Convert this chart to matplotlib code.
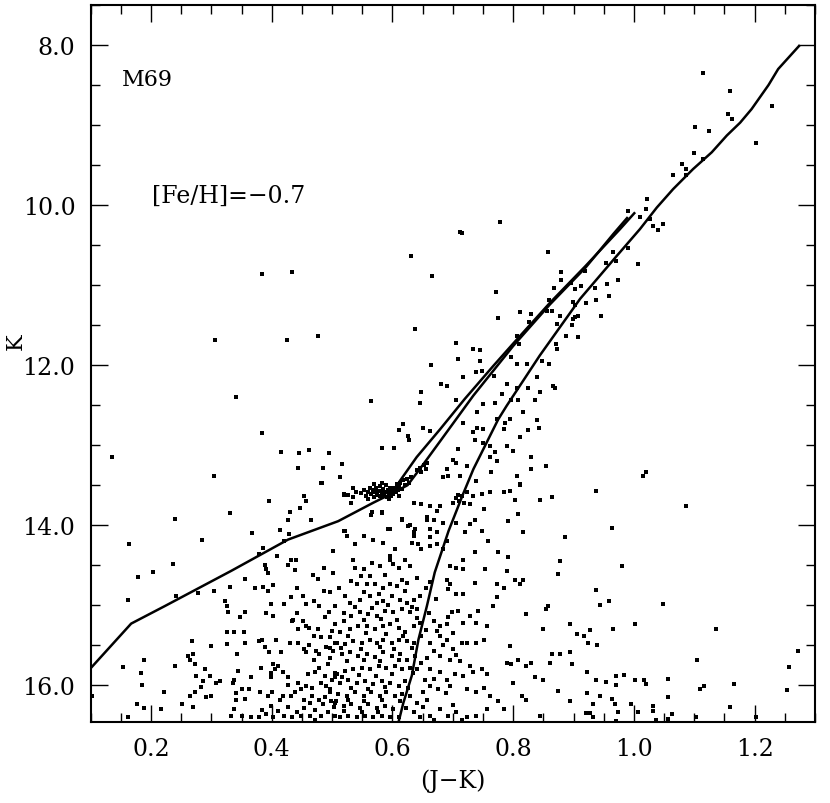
import matplotlib
matplotlib.use("Agg")
import matplotlib.pyplot as plt
import numpy as np
from matplotlib.ticker import MultipleLocator, FormatStrFormatter

plt.rcParams["font.family"] = ["DejaVu Serif"]

# ---------------------------------------------------------------
# fiducial lines, (J-K) vs K
# ---------------------------------------------------------------
rgb_jk = [0.610, 0.618, 0.632, 0.643, 0.657, 0.670, 0.693, 0.717, 0.734,
          0.775, 0.789, 0.844, 0.911, 0.971, 1.010, 1.038, 1.065, 1.098,
          1.129, 1.154, 1.176, 1.195, 1.223, 1.239, 1.275]
rgb_k = [16.46, 16.22, 15.88, 15.43, 15.01, 14.59, 14.07, 13.61, 13.30,
         12.68, 12.51, 11.88, 11.17, 10.64, 10.30, 10.03, 9.80, 9.55,
         9.34, 9.13, 8.97, 8.80, 8.50, 8.30, 8.00]

hb_jk = [0.090, 0.167, 0.223, 0.333, 0.427, 0.510, 0.568, 0.600]
hb_k = [15.87, 15.23, 15.01, 14.57, 14.18, 13.95, 13.72, 13.60]

agb_up_jk = [0.600, 0.612, 0.640, 0.679, 0.720, 0.767, 0.800, 0.861,
             0.920, 0.977, 1.002]
agb_up_k = [13.60, 13.45, 13.15, 12.80, 12.42, 12.01, 11.73, 11.22,
            10.76, 10.30, 10.09]

agb_lo_jk = [0.600, 0.625, 0.650, 0.679, 0.734, 0.800, 0.861, 0.920,
             0.966, 0.990]
agb_lo_k = [13.60, 13.50, 13.25, 12.95, 12.38, 11.76, 11.24, 10.78,
            10.36, 10.15]

# ---------------------------------------------------------------
# stars (J-K, K)
# ---------------------------------------------------------------
upper_stars = [
    (1.115, 8.35), (1.159, 8.58), (1.228, 8.76), (1.156, 8.86), (1.163, 8.93),
    (1.101, 9.03), (1.125, 9.07), (1.202, 9.22), (1.100, 9.35), (1.114, 9.43),
    (1.079, 9.49), (1.086, 9.55), (1.065, 9.62), (1.087, 9.62), (1.022, 9.92),
    (0.991, 10.08), (1.020, 10.05), (1.010, 10.15), (1.027, 10.17),
    (1.031, 10.26), (1.048, 10.24), (1.040, 10.31), (0.991, 10.54),
    (0.965, 10.59), (0.712, 10.34), (0.778, 10.21),
    (0.715, 10.35), (0.858, 10.59), (0.879, 10.83), (0.879, 10.93),
    (0.919, 10.82), (0.971, 10.70), (0.953, 10.72), (1.006, 10.73),
    (0.973, 10.93), (0.955, 10.98), (0.935, 11.04), (0.937, 11.19),
    (0.958, 11.14), (0.913, 11.01), (0.902, 11.05), (0.895, 10.97),
    (0.868, 11.03), (0.771, 11.09), (0.811, 11.33), (0.830, 11.36),
    (0.860, 11.18), (0.856, 11.32), (0.865, 11.32), (0.877, 11.38),
    (0.899, 11.21), (0.902, 11.25), (0.920, 11.22), (0.945, 11.39),
    (0.899, 11.42), (0.902, 11.40), (0.907, 11.38), (0.897, 11.50),
    (0.873, 11.48), (0.888, 11.63), (0.907, 11.65), (0.775, 11.41),
    (0.827, 11.46), (0.706, 11.72), (0.734, 11.80), (0.745, 11.81),
    (0.709, 11.92), (0.745, 11.95), (0.806, 11.63), (0.810, 11.74),
    (0.796, 11.90), (0.871, 11.74), (0.873, 11.80), (0.847, 11.95),
    (0.860, 11.99), (0.823, 11.98), (0.807, 11.98),
    (0.631, 10.63), (0.384, 10.86), (0.433, 10.83), (0.665, 10.88),
    (0.637, 11.55), (0.306, 11.69), (0.426, 11.69), (0.477, 11.63),
    (0.664, 12.00),
]

middle_stars = [
    (0.681, 12.24), (0.690, 12.26), (0.717, 12.15), (0.739, 12.09),
    (0.748, 12.07), (0.769, 12.13), (0.839, 12.15), (0.825, 12.29),
    (0.844, 12.34), (0.866, 12.26), (0.869, 12.29), (0.807, 12.28),
    (0.789, 12.24), (0.781, 12.36), (0.750, 12.49), (0.770, 12.47),
    (0.797, 12.43), (0.808, 12.43), (0.836, 12.43), (0.816, 12.59),
    (0.706, 12.43), (0.740, 12.59), (0.717, 12.72), (0.750, 12.80),
    (0.773, 12.67), (0.795, 12.67), (0.786, 12.72), (0.784, 12.80),
    (0.839, 12.68), (0.842, 12.79), (0.825, 12.81), (0.812, 12.90),
    (0.740, 12.78), (0.734, 12.84), (0.737, 12.93), (0.750, 12.97),
    (0.761, 13.01), (0.770, 13.09), (0.773, 13.20), (0.761, 13.15),
    (0.789, 13.01), (0.800, 13.07), (0.830, 13.15), (0.855, 13.26),
    (0.830, 13.30), (0.807, 13.38), (0.811, 13.50), (0.709, 13.05),
    (0.706, 13.22), (0.712, 13.38), (0.723, 13.26), (0.701, 13.18),
    (0.690, 13.30), (0.684, 13.40), (0.692, 13.38),
    (0.647, 12.33), (0.646, 12.47), (0.341, 12.40), (0.564, 12.45),
    (0.384, 12.85), (0.617, 12.73), (0.610, 12.81), (0.626, 12.88),
    (0.628, 12.93), (0.651, 12.79), (0.662, 12.82), (0.135, 13.15),
    (0.415, 13.08), (0.445, 13.10), (0.461, 13.06), (0.495, 13.10),
    (0.583, 13.03), (0.603, 13.04), (0.443, 13.28), (0.485, 13.29),
    (0.516, 13.23), (0.513, 13.40), (0.483, 13.47), (0.520, 13.62),
    (0.526, 13.62), (0.535, 13.65), (0.532, 13.72), (0.565, 13.87),
    (0.582, 13.85), (0.615, 13.92), (0.596, 14.05), (0.629, 14.00),
    (0.635, 14.09), (0.657, 13.93), (0.662, 14.05), (0.520, 14.07),
    (0.524, 14.13), (0.596, 14.43),
    (0.645, 13.28), (0.652, 13.25), (0.655, 13.30), (0.648, 13.33),
    (0.658, 13.22), (0.640, 13.31),
    (0.705, 13.66), (0.710, 13.70), (0.715, 13.64), (0.700, 13.72),
    (0.718, 13.72), (0.708, 13.62),
]

# red clump
clump_stars = [
    (0.548, 13.60), (0.553, 13.56), (0.556, 13.63), (0.560, 13.58),
    (0.562, 13.53), (0.565, 13.61), (0.567, 13.56), (0.569, 13.65),
    (0.571, 13.59), (0.573, 13.54), (0.575, 13.62), (0.577, 13.57),
    (0.579, 13.51), (0.580, 13.64), (0.582, 13.59), (0.584, 13.55),
    (0.586, 13.62), (0.588, 13.58), (0.589, 13.50), (0.591, 13.65),
    (0.592, 13.56), (0.594, 13.60), (0.596, 13.53), (0.597, 13.63),
    (0.599, 13.57), (0.601, 13.61), (0.603, 13.54), (0.605, 13.59),
    (0.607, 13.49), (0.609, 13.56), (0.611, 13.52), (0.613, 13.47),
    (0.616, 13.55), (0.618, 13.44), (0.621, 13.50), (0.624, 13.42),
    (0.570, 13.48), (0.583, 13.47), (0.595, 13.67), (0.560, 13.67),
    (0.540, 13.58), (0.535, 13.53), (0.630, 13.40), (0.628, 13.47),
    (0.610, 13.64),
]

# blue side, (J-K) < 0.51
blue_stars = [
    (0.305, 13.38), (0.482, 13.47), (0.396, 13.70), (0.454, 13.63),
    (0.456, 13.70), (0.330, 13.85), (0.446, 13.79), (0.431, 13.84),
    (0.427, 13.93), (0.465, 13.94), (0.239, 13.92), (0.413, 14.06),
    (0.428, 14.11), (0.368, 14.10), (0.420, 14.20), (0.284, 14.19),
    (0.163, 14.24), (0.385, 14.29), (0.379, 14.36), (0.409, 14.38),
    (0.432, 14.43), (0.440, 14.43), (0.427, 14.50), (0.388, 14.50),
    (0.438, 14.56), (0.486, 14.54), (0.236, 14.48), (0.203, 14.58),
    (0.178, 14.65), (0.355, 14.67), (0.390, 14.55), (0.393, 14.60),
    (0.476, 14.67), (0.330, 14.77), (0.372, 14.78), (0.385, 14.77),
    (0.402, 14.75), (0.441, 14.78), (0.394, 14.82), (0.305, 14.82),
    (0.278, 14.85), (0.242, 14.88), (0.161, 14.93), (0.432, 14.90),
    (0.452, 14.88), (0.486, 14.82), (0.323, 14.95), (0.325, 15.01),
    (0.399, 14.98), (0.421, 14.99), (0.456, 14.98), (0.478, 15.01),
    (0.327, 15.08), (0.348, 15.15), (0.355, 15.08), (0.391, 15.10),
    (0.402, 15.13), (0.435, 15.18), (0.442, 15.10), (0.451, 15.20),
    (0.457, 15.26), (0.462, 15.29), (0.443, 15.30), (0.433, 15.20),
    (0.476, 15.30), (0.495, 15.09), (0.482, 15.40), (0.496, 15.40),
    (0.325, 15.34), (0.337, 15.34), (0.354, 15.34), (0.378, 15.45),
    (0.384, 15.43), (0.407, 15.43), (0.430, 15.47), (0.444, 15.47),
    (0.355, 15.47), (0.326, 15.49), (0.267, 15.45), (0.300, 15.51),
    (0.388, 15.52), (0.396, 15.58), (0.415, 15.58), (0.454, 15.55),
    (0.457, 15.59), (0.474, 15.57), (0.479, 15.61), (0.496, 15.53),
    (0.505, 15.47), (0.343, 15.61), (0.261, 15.63), (0.269, 15.61),
    (0.264, 15.68), (0.272, 15.74), (0.188, 15.68), (0.153, 15.77),
    (0.239, 15.76), (0.290, 15.80), (0.344, 15.82), (0.366, 15.90),
    (0.382, 15.79), (0.398, 15.85), (0.402, 15.73), (0.410, 15.76),
    (0.405, 15.80), (0.418, 15.84), (0.398, 15.90), (0.427, 15.90),
    (0.471, 15.84), (0.479, 15.78), (0.493, 15.74), (0.504, 15.85),
    (0.183, 15.85), (0.275, 15.88), (0.286, 15.95), (0.297, 15.88),
    (0.308, 15.97), (0.315, 15.95), (0.336, 15.97), (0.338, 15.93),
    (0.427, 16.00), (0.443, 15.97), (0.457, 16.01), (0.482, 15.97),
    (0.490, 16.01), (0.504, 15.90), (0.185, 16.00), (0.221, 16.08),
    (0.102, 16.13), (0.283, 16.02), (0.272, 16.08), (0.264, 16.14),
    (0.291, 16.15), (0.299, 16.13), (0.341, 16.10), (0.351, 16.05),
    (0.363, 16.05), (0.341, 16.18), (0.355, 16.17), (0.380, 16.08),
    (0.394, 16.13), (0.400, 16.08), (0.413, 16.18), (0.418, 16.14),
    (0.432, 16.13), (0.438, 16.08), (0.449, 16.05), (0.454, 16.18),
    (0.467, 16.13), (0.479, 16.18), (0.489, 16.15), (0.496, 16.09),
    (0.507, 16.20), (0.176, 16.24), (0.188, 16.29), (0.216, 16.30),
    (0.252, 16.24), (0.270, 16.27), (0.162, 16.40), (0.338, 16.30),
    (0.333, 16.38), (0.351, 16.38), (0.366, 16.40), (0.378, 16.40),
    (0.383, 16.31), (0.391, 16.36), (0.398, 16.26), (0.402, 16.40),
    (0.410, 16.32), (0.421, 16.38), (0.427, 16.27), (0.433, 16.40),
    (0.441, 16.33), (0.449, 16.38), (0.454, 16.28), (0.463, 16.38),
    (0.471, 16.31), (0.481, 16.38), (0.485, 16.24), (0.493, 16.33),
    (0.503, 16.27), (0.505, 16.39),
]

# main sequence / lower RGB, 0.50 < (J-K) < 0.91
faint_stars = [
    (0.513, 13.40), (0.519, 13.61), (0.532, 13.72), (0.566, 13.84),
    (0.582, 13.84), (0.615, 13.93), (0.593, 14.05), (0.521, 14.07),
    (0.635, 13.72), (0.648, 13.74), (0.662, 13.76), (0.673, 13.82),
    (0.679, 13.76), (0.657, 13.90), (0.668, 13.93), (0.684, 13.97),
    (0.626, 14.01), (0.637, 14.05), (0.635, 14.13), (0.662, 14.05),
    (0.673, 14.09), (0.662, 14.15), (0.632, 14.22), (0.643, 14.24),
    (0.648, 14.30), (0.662, 14.26), (0.673, 14.24), (0.684, 14.30),
    (0.690, 14.20), (0.706, 13.97), (0.720, 14.09), (0.728, 13.99),
    (0.737, 13.93), (0.748, 14.07), (0.751, 13.80), (0.728, 13.74),
    (0.723, 13.59), (0.734, 13.63), (0.748, 13.61), (0.762, 13.59),
    (0.739, 13.45), (0.764, 13.34), (0.784, 13.59), (0.795, 13.57),
    (0.803, 13.68), (0.806, 13.38), (0.811, 13.49), (0.844, 13.68),
    (0.864, 13.65), (0.759, 14.20), (0.775, 14.34), (0.792, 14.40),
    (0.789, 14.57), (0.753, 14.55), (0.737, 14.34), (0.717, 14.43),
    (0.706, 14.53), (0.717, 14.55), (0.695, 14.51), (0.690, 14.68),
    (0.695, 14.74), (0.692, 14.80), (0.706, 14.86), (0.717, 14.86),
    (0.737, 14.72), (0.773, 14.74), (0.784, 14.78), (0.803, 14.68),
    (0.817, 14.68), (0.811, 14.74), (0.773, 14.90), (0.767, 15.01),
    (0.742, 15.07), (0.728, 15.13), (0.709, 15.07), (0.698, 15.09),
    (0.692, 15.15), (0.679, 15.26), (0.690, 15.24), (0.717, 15.22),
    (0.739, 15.22), (0.756, 15.26), (0.751, 15.43), (0.739, 15.47),
    (0.723, 15.47), (0.715, 15.47), (0.701, 15.55), (0.690, 15.43),
    (0.679, 15.38), (0.673, 15.32), (0.662, 15.47), (0.668, 15.57),
    (0.679, 15.63), (0.695, 15.68), (0.712, 15.70), (0.728, 15.76),
    (0.734, 15.84), (0.748, 15.80), (0.756, 15.86), (0.717, 15.88),
    (0.704, 15.86), (0.690, 15.93), (0.679, 15.84), (0.662, 15.80),
    (0.654, 15.93), (0.662, 16.01), (0.676, 16.05), (0.695, 16.01),
    (0.723, 16.05), (0.739, 16.09), (0.751, 16.03), (0.762, 16.13),
    (0.775, 16.20), (0.784, 16.30), (0.756, 16.30), (0.739, 16.38),
    (0.723, 16.40), (0.706, 16.34), (0.692, 16.38), (0.679, 16.30),
    (0.662, 16.38), (0.646, 16.40), (0.635, 16.34), (0.640, 16.22),
    (0.657, 16.18), (0.629, 16.13), (0.795, 15.51), (0.789, 15.72),
    (0.797, 15.74), (0.808, 15.68), (0.822, 15.76), (0.830, 15.72),
    (0.836, 15.90), (0.850, 15.93), (0.861, 15.72), (0.864, 15.61),
    (0.878, 15.61), (0.894, 15.59), (0.897, 15.74), (0.894, 15.24),
    (0.905, 15.36), (0.858, 15.01), (0.855, 15.05), (0.850, 15.30),
    (0.875, 16.07), (0.894, 16.20), (0.800, 15.97), (0.814, 16.13),
    (0.822, 16.18), (0.844, 16.38), (0.886, 14.15), (0.878, 14.45),
    (0.875, 14.61), (0.817, 14.09), (0.808, 13.86), (0.792, 13.95),
    (0.822, 15.11),
    (0.535, 14.43), (0.538, 14.53), (0.566, 14.47), (0.579, 14.51),
    (0.596, 14.38), (0.601, 14.49), (0.610, 14.53), (0.621, 14.43),
    (0.629, 14.51), (0.615, 14.68), (0.624, 14.72), (0.607, 14.76),
    (0.596, 14.74), (0.585, 14.78), (0.571, 14.74), (0.557, 14.74),
    (0.541, 14.74), (0.532, 14.70), (0.521, 14.88), (0.563, 14.88),
    (0.574, 14.97), (0.585, 14.95), (0.599, 14.88), (0.612, 14.93),
    (0.624, 14.97), (0.635, 14.93), (0.646, 14.88), (0.640, 15.05),
    (0.629, 15.09), (0.615, 15.05), (0.601, 15.09), (0.588, 15.07),
    (0.574, 15.13), (0.560, 15.11), (0.546, 15.09), (0.532, 15.13),
    (0.519, 15.20), (0.505, 15.24), (0.513, 15.34), (0.530, 15.30),
    (0.543, 15.26), (0.557, 15.26), (0.571, 15.30), (0.585, 15.26),
    (0.596, 15.24), (0.610, 15.28), (0.621, 15.34), (0.635, 15.26),
    (0.646, 15.22), (0.648, 15.38), (0.635, 15.47), (0.624, 15.45),
    (0.610, 15.43), (0.599, 15.47), (0.585, 15.43), (0.574, 15.47),
    (0.563, 15.43), (0.549, 15.47), (0.535, 15.45), (0.521, 15.49),
    (0.508, 15.47), (0.502, 15.57), (0.516, 15.61), (0.530, 15.59),
    (0.543, 15.63), (0.557, 15.61), (0.571, 15.65), (0.585, 15.59),
    (0.599, 15.63), (0.612, 15.61), (0.624, 15.68), (0.637, 15.63),
    (0.648, 15.72), (0.640, 15.80), (0.629, 15.78), (0.615, 15.80),
    (0.604, 15.76), (0.590, 15.78), (0.577, 15.76), (0.563, 15.80),
    (0.549, 15.78), (0.535, 15.80), (0.521, 15.82), (0.508, 15.86),
    (0.499, 15.93), (0.513, 15.97), (0.527, 15.93), (0.541, 15.97),
    (0.554, 15.95), (0.568, 15.99), (0.582, 15.95), (0.596, 15.97),
    (0.610, 16.01), (0.621, 15.95), (0.615, 16.11), (0.604, 16.13),
    (0.590, 16.09), (0.579, 16.13), (0.565, 16.09), (0.552, 16.13),
    (0.538, 16.09), (0.524, 16.13), (0.510, 16.11), (0.505, 16.22),
    (0.519, 16.26), (0.532, 16.24), (0.546, 16.28), (0.560, 16.24),
    (0.574, 16.28), (0.588, 16.26), (0.601, 16.30), (0.596, 16.40),
    (0.582, 16.38), (0.568, 16.40), (0.554, 16.38), (0.541, 16.40),
    (0.527, 16.38), (0.513, 16.40), (0.552, 14.13), (0.568, 14.18),
    (0.585, 14.22), (0.604, 14.30), (0.538, 14.24), (0.502, 14.32),
    (0.563, 14.63), (0.552, 14.55), (0.497, 14.84), (0.505, 15.01),
    (0.530, 14.97), (0.546, 14.93),
]

# densest part of the main sequence, between the stars above
dense_stars = [
    (0.468, 14.62), (0.502, 14.60), (0.548, 14.64), (0.588, 14.62),
    (0.640, 14.66), (0.662, 14.71), (0.512, 14.79), (0.553, 14.83),
    (0.578, 14.86), (0.620, 14.82), (0.655, 14.79), (0.672, 14.92),
    (0.470, 14.95), (0.538, 15.02), (0.566, 15.04), (0.593, 15.00),
    (0.632, 15.02), (0.661, 15.10), (0.489, 15.15), (0.520, 15.10),
    (0.552, 15.18), (0.581, 15.17), (0.607, 15.19), (0.640, 15.16),
    (0.668, 15.20), (0.470, 15.38), (0.500, 15.32), (0.527, 15.38),
    (0.556, 15.35), (0.590, 15.36), (0.617, 15.39), (0.655, 15.31),
    (0.700, 15.35), (0.462, 15.50), (0.490, 15.52), (0.515, 15.54),
    (0.547, 15.55), (0.580, 15.52), (0.603, 15.55), (0.632, 15.54),
    (0.683, 15.50), (0.470, 15.68), (0.497, 15.66), (0.524, 15.70),
    (0.552, 15.69), (0.580, 15.70), (0.610, 15.69), (0.657, 15.66),
    (0.705, 15.62), (0.460, 15.86), (0.488, 15.88), (0.516, 15.90),
    (0.545, 15.87), (0.572, 15.88), (0.600, 15.86), (0.634, 15.85),
    (0.668, 15.92), (0.466, 16.03), (0.497, 16.05), (0.531, 16.03),
    (0.560, 16.05), (0.588, 16.02), (0.625, 16.04), (0.650, 16.08),
    (0.688, 16.10), (0.463, 16.22), (0.498, 16.20), (0.526, 16.18),
    (0.553, 16.20), (0.583, 16.18), (0.612, 16.20), (0.650, 16.27),
    (0.700, 16.25), (0.472, 16.44), (0.520, 16.32), (0.549, 16.33),
    (0.576, 16.34), (0.610, 16.40), (0.623, 16.29), (0.668, 16.44),
    (0.715, 16.44),
]

# red side, (J-K) > 0.91
red_stars = [
    (1.015, 13.38), (1.020, 13.34), (0.938, 13.57), (1.087, 13.76),
    (0.964, 14.04), (0.980, 14.51), (0.937, 14.81), (0.943, 15.00),
    (0.959, 14.95), (1.048, 14.98), (0.917, 15.38), (0.928, 15.31),
    (0.966, 15.30), (1.001, 15.23), (0.924, 15.47), (0.939, 15.50),
    (1.136, 15.30), (1.104, 15.69), (0.922, 15.84), (0.938, 15.93),
    (0.954, 15.96), (0.970, 15.89), (0.984, 15.87), (0.971, 16.00),
    (1.002, 15.94), (1.016, 15.93), (1.020, 15.98), (1.056, 15.92),
    (1.109, 16.05), (1.116, 16.01), (1.166, 15.99), (1.272, 15.57),
    (1.257, 15.77), (1.254, 16.06), (0.922, 16.10), (0.944, 16.13),
    (0.963, 16.17), (0.969, 16.24), (0.933, 16.23), (0.996, 16.23),
    (1.007, 16.34), (1.032, 16.26), (1.032, 16.32), (1.056, 16.15),
    (1.159, 16.27), (0.974, 16.33), (0.921, 16.35), (0.927, 16.35),
    (0.932, 16.40), (0.970, 16.45), (1.036, 16.43), (1.056, 16.42),
    (1.063, 16.36), (1.103, 16.40), (1.202, 16.40),
]

star_groups = [upper_stars, middle_stars, clump_stars, blue_stars,
               faint_stars, dense_stars, red_stars]
stars = np.array([s for group in star_groups for s in group])

fig = plt.figure(figsize=(8.30, 8.04), dpi=100)
ax = fig.add_axes([0.1093, 0.1007, 0.8726, 0.8918])

ax.scatter(stars[:, 0], stars[:, 1], s=6.5, marker="s", color="black",
           linewidths=0)

for jk, k in [(rgb_jk, rgb_k), (hb_jk, hb_k),
              (agb_up_jk, agb_up_k), (agb_lo_jk, agb_lo_k)]:
    ax.plot(jk, k, color="black", linewidth=1.8, solid_capstyle="butt")

ax.set_xlim(0.1, 1.3)
ax.set_ylim(16.46, 7.5)

ax.xaxis.set_major_locator(MultipleLocator(0.2))
ax.xaxis.set_minor_locator(MultipleLocator(0.05))
ax.yaxis.set_major_locator(MultipleLocator(2.0))
ax.yaxis.set_minor_locator(MultipleLocator(0.5))
ax.xaxis.set_major_formatter(FormatStrFormatter("%.1f"))
ax.yaxis.set_major_formatter(FormatStrFormatter("%.1f"))

ax.tick_params(which="both", direction="in", top=True, right=True,
               labelsize=17, pad=11, width=1.0)
ax.tick_params(which="major", length=12.5)
ax.tick_params(which="minor", length=6.5)
for spine in ax.spines.values():
    spine.set_linewidth(1.5)

ax.set_xlabel("(J\u2212K)", fontsize=17, labelpad=6)
ax.set_ylabel("K", fontsize=16)
ax.yaxis.set_label_coords(-0.088, 0.532)

ax.text(0.151, 8.42, "M69", fontsize=16, ha="left", va="center")
ax.text(0.201, 9.88, "[Fe/H]=\u22120.7", fontsize=17, ha="left",
        va="center")

fig.savefig("out.png", dpi=100)
